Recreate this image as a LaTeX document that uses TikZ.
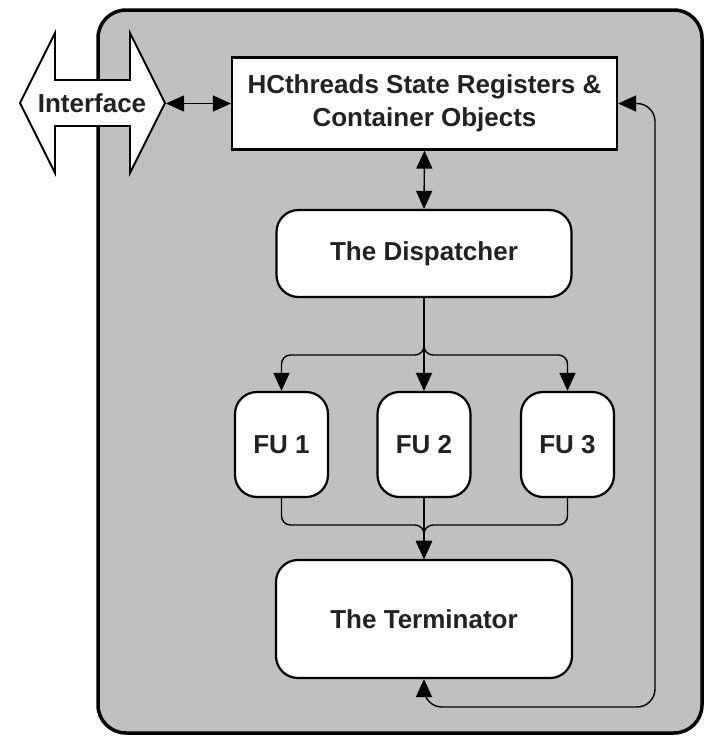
\documentclass[tikz,border=0pt]{standalone}
\usepackage{fontspec}
\setmainfont{Liberation Sans}
\usetikzlibrary{arrows.meta}
\definecolor{bggray}{HTML}{C0C0C0}
\definecolor{txt}{HTML}{222222}
\begin{document}
\begin{tikzpicture}[x=1pt,y=-1pt,
  lbl/.style={font=\bfseries\fontsize{26}{33}\selectfont, text=txt},
  box/.style={draw=black, line width=2.2pt, fill=white, inner sep=0pt, lbl, align=center},
  rbox/.style={box, rounded corners=22pt},
  conn/.style={line width=1.4pt, -{Triangle[length=18pt,width=16pt]}},
  dconn/.style={line width=1.4pt, {Triangle[length=18pt,width=16pt]}-{Triangle[length=18pt,width=16pt]}}]
\useasboundingbox (0,0) rectangle (706,737);
% outer container
\draw[line width=3.5pt, fill=bggray, rounded corners=28pt] (98,10) rectangle (702,733);
% interface double arrow
\draw[line width=1.8pt, fill=white, line join=miter]
  (20,103) -- (55,33) -- (55,80) -- (130,80) -- (130,33) -- (165,103)
  -- (130,173) -- (130,126) -- (55,126) -- (55,173) -- cycle;
\node[lbl, inner sep=0pt] (iface) at (92,103) {Interface};
\coordinate (ifR) at (166,103.5);
% boxes
\node[box, minimum width=385pt, minimum height=92pt] (top) at (424.5,103.5)
  {HCthreads State Registers \&\\Container Objects};
\node[rbox, minimum width=295pt, minimum height=87pt] (disp) at (424,253.5) {The Dispatcher};
\node[rbox, minimum width=93pt, minimum height=105pt] (fu1) at (281.5,444.5) {FU 1};
\node[rbox, minimum width=93pt, minimum height=105pt] (fu2) at (424,444.5) {FU 2};
\node[rbox, minimum width=93pt, minimum height=105pt] (fu3) at (567.5,444.5) {FU 3};
\node[rbox, minimum width=296pt, minimum height=118pt] (term) at (424,619) {The Terminator};
% helper coordinates
\coordinate (split) at (424,355);
\coordinate (merge) at (424,525);
\coordinate (loopBR) at (655,707);
% connectors
\draw[dconn] (ifR) -- (top.west);
\draw[dconn] (top.south) -- (disp.north);
\draw[conn, rounded corners=9pt] (disp.south) -- (split) -| (fu1.north);
\draw[conn, rounded corners=9pt] (disp.south) -- (split) -| (fu3.north);
\draw[conn] (disp.south) -- (fu2.north);
\draw[conn, rounded corners=9pt] (fu1.south) |- (merge) -- (term.north);
\draw[conn, rounded corners=9pt] (fu3.south) |- (merge) -- (term.north);
\draw[conn] (fu2.south) -- (term.north);
\draw[dconn, rounded corners=18pt] (term.south) |- (loopBR) |- (top.east);
\end{tikzpicture}
\end{document}
